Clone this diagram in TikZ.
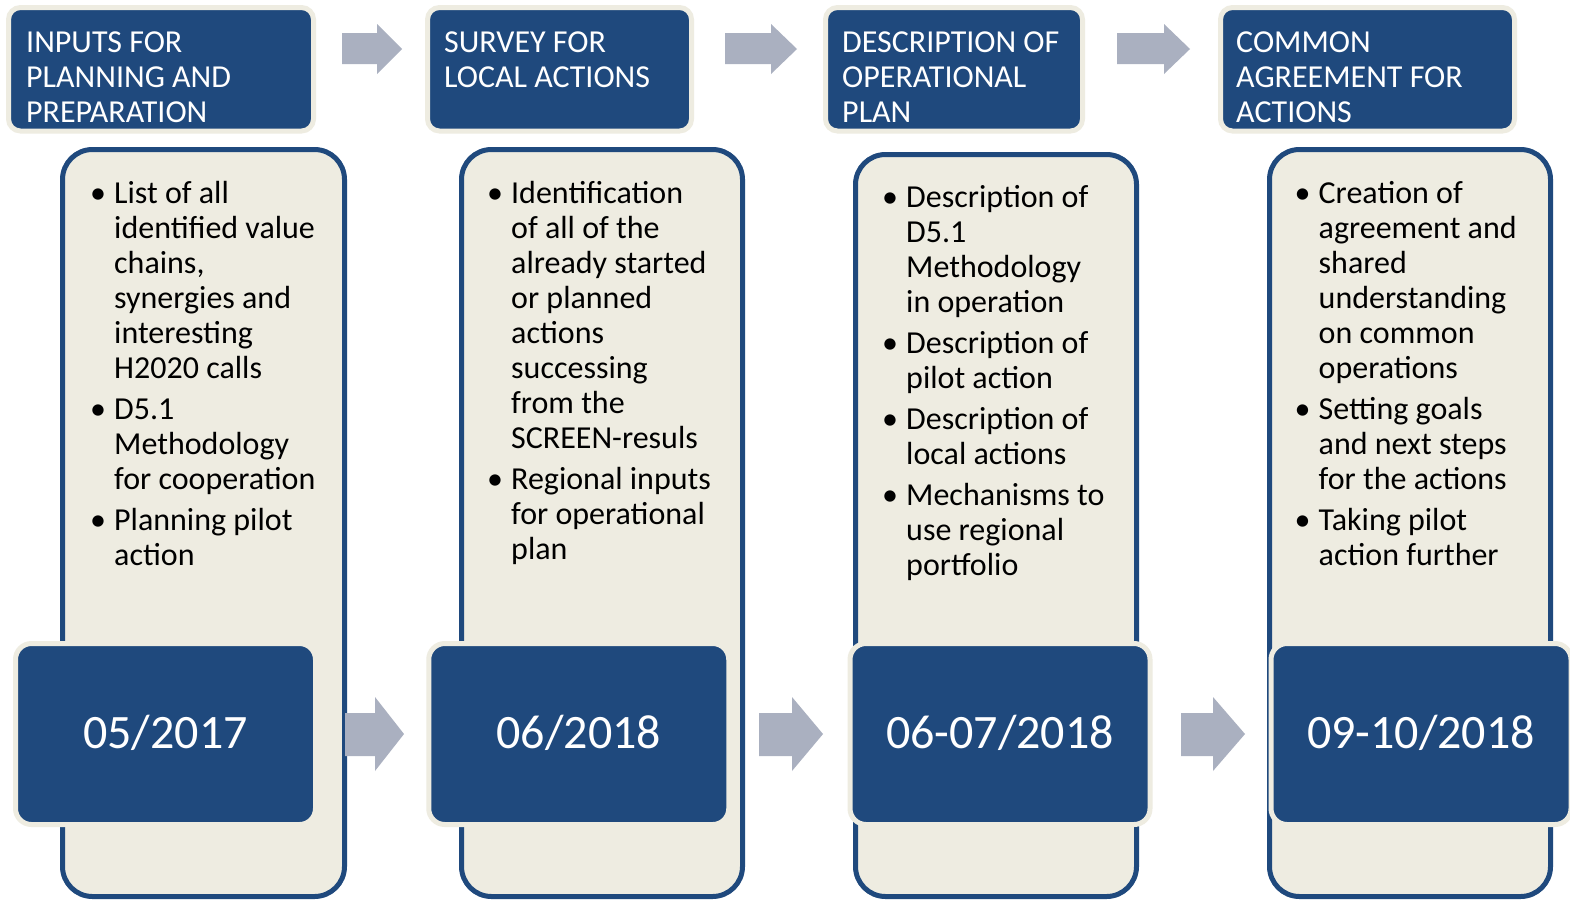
\documentclass[tikz,border=0pt]{standalone}
\usepackage{fontspec}
\setmainfont{Carlito}
\definecolor{dblue}{HTML}{1F497D}
\definecolor{beige}{HTML}{EEECE1}
\definecolor{agray}{RGB}{170,176,192}
\newcommand{\bi}{\makebox[24pt][l]{•}}
\newcommand{\ind}{\hspace*{24pt}}
\newcommand{\blockarrow}[7]{%
  \fill[agray] (#1,#5) -- (#2,#5) -- (#2,#4) -- (#3,{(#4+#7)/2}) -- (#2,#7) -- (#2,#6) -- (#1,#6) -- cycle;}
\begin{document}
\begin{tikzpicture}[x=1pt,y=-1pt,
  hdr/.style={fill=dblue, draw=beige, line width=5pt, rounded corners=12pt, inner sep=0pt},
  colbox/.style={fill=beige, draw=dblue, line width=5pt, rounded corners=30pt, inner sep=0pt},
  datebox/.style={fill=dblue, draw=beige, line width=5pt, rounded corners=16pt, inner sep=0pt, minimum width=300pt, minimum height=181pt},
  htext/.style={anchor=north west, inner sep=0pt, text=white, font=\fontsize{32}{35}\selectfont},
  btext/.style={anchor=north west, inner sep=0pt, text=black, font=\fontsize{32}{35}\selectfont},
  dtext/.style={anchor=base, inner sep=0pt, text=white, font=\fontsize{48}{58}\selectfont}]
\useasboundingbox (0,0) rectangle (1570,900);
\fill[white] (0,0) rectangle (1570,900);

% header boxes
\node[hdr, minimum width=305pt, minimum height=123.5pt] (h1) at (161,69.25) {};
\node[hdr, minimum width=264pt, minimum height=123.5pt] (h2) at (559.5,69.25) {};
\node[hdr, minimum width=257pt, minimum height=123.5pt] (h3) at (954,69.25) {};
\node[hdr, minimum width=294pt, minimum height=123.5pt] (h4) at (1367.5,69.25) {};

\node[htext] (h1t) at (26,27.5) {\begin{tabular}{@{}l@{}}INPUTS FOR\\PLANNING AND\\PREPARATION\end{tabular}};
\node[htext] (h2t) at (444,27.5) {\begin{tabular}{@{}l@{}}SURVEY FOR\\LOCAL ACTIONS\end{tabular}};
\node[htext] (h3t) at (842,27.5) {\begin{tabular}{@{}l@{}}DESCRIPTION OF\\OPERATIONAL\\PLAN\end{tabular}};
\node[htext] (h4t) at (1236,27.5) {\begin{tabular}{@{}l@{}}COMMON\\AGREEMENT FOR\\ACTIONS\end{tabular}};

% top arrows
\blockarrow{342}{377}{402}{24}{33}{64}{74}
\blockarrow{725}{771}{797}{24}{33}{64}{74}
\blockarrow{1117}{1164}{1190}{24}{33}{64}{74}

% columns
\node[colbox, minimum width=282pt, minimum height=747pt] (c1) at (203.5,523) {};
\node[colbox, minimum width=281pt, minimum height=747pt] (c2) at (602,523) {};
\node[colbox, minimum width=281pt, minimum height=742pt] (c3) at (996,525.5) {};
\node[colbox, minimum width=281pt, minimum height=747pt] (c4) at (1410,523) {};

\node[btext] (c1t) at (90,178.5) {\begin{tabular}{@{}l@{}}
\bi List of all\\ \ind identified value\\ \ind chains,\\ \ind synergies and\\ \ind interesting\\ \ind H2020 calls\\[6pt]
\bi D5.1\\ \ind Methodology\\ \ind for cooperation\\[6pt]
\bi Planning pilot\\ \ind action\end{tabular}};

\node[btext] (c2t) at (487,178.5) {\begin{tabular}{@{}l@{}}
\bi Identification\\ \ind of all of the\\ \ind already started\\ \ind or planned\\ \ind actions\\ \ind successing\\ \ind from the\\ \ind SCREEN-resuls\\[6pt]
\bi Regional inputs\\ \ind for operational\\ \ind plan\end{tabular}};

\node[btext] (c3t) at (882,182.5) {\begin{tabular}{@{}l@{}}
\bi Description of\\ \ind D5.1\\ \ind Methodology\\ \ind in operation\\[6pt]
\bi Description of\\ \ind pilot action\\[6pt]
\bi Description of\\ \ind local actions\\[6pt]
\bi Mechanisms to\\ \ind use regional\\ \ind portfolio\end{tabular}};

\node[btext] (c4t) at (1294.5,178.5) {\begin{tabular}{@{}l@{}}
\bi Creation of\\ \ind agreement and\\ \ind shared\\ \ind understanding\\ \ind on common\\ \ind operations\\[6pt]
\bi Setting goals\\ \ind and next steps\\ \ind for the actions\\[6pt]
\bi Taking pilot\\ \ind action further\end{tabular}};

% date boxes
\node[datebox] (d1) at (165.5,734) {};
\node[datebox] (d2) at (578.75,734) {};
\node[datebox] (d3) at (1000,734) {};
\node[datebox] (d4) at (1421,734) {};
\node[dtext] (d1t) at (165.5,748) {05/2017};
\node[dtext] (d2t) at (578.75,748) {06/2018};
\node[dtext] (d3t) at (1000,748) {06-07/2018};
\node[dtext] (d4t) at (1421,748) {09-10/2018};

% bottom arrows
\blockarrow{345}{375}{404}{697}{713}{756}{771}
\blockarrow{759}{792}{823}{697}{713}{756}{771}
\blockarrow{1181}{1213}{1245}{697}{713}{756}{771}
\end{tikzpicture}
\end{document}
